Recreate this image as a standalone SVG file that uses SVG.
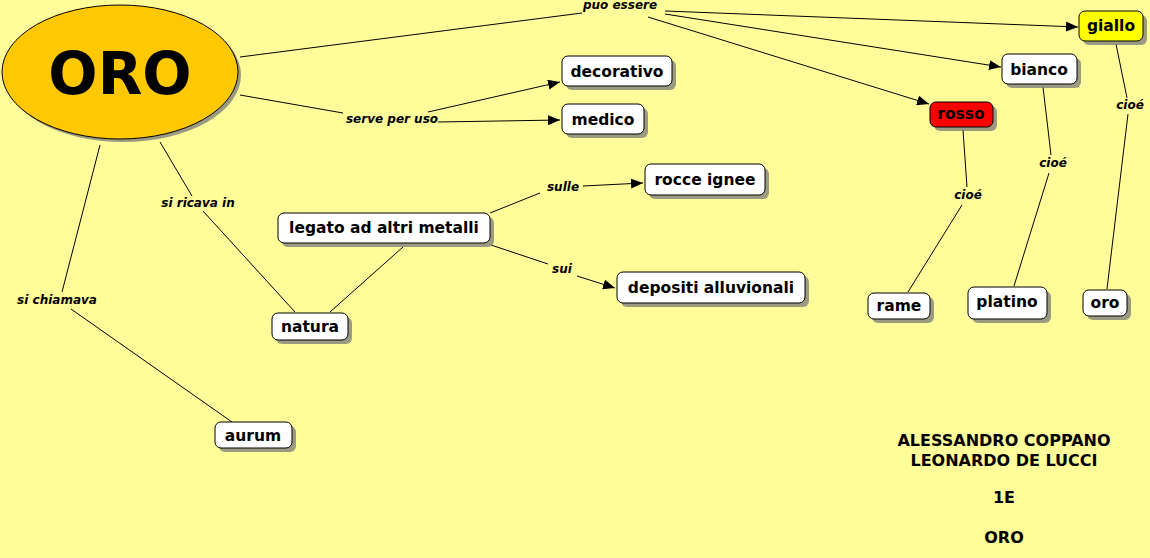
<svg xmlns="http://www.w3.org/2000/svg" width="1150" height="558" viewBox="0 0 1150 558">
<style>
.bg{fill:#FFFD9A}
.box{fill:#fff;stroke:#000;stroke-width:1}
.sh{fill:#7a7a7a;opacity:0.75}
.t{font-family:"DejaVu Sans",Verdana,sans-serif;font-weight:bold;font-size:15.5px;fill:#000;text-anchor:middle}
.lb{font-family:"DejaVu Sans",Verdana,sans-serif;font-weight:bold;font-style:italic;font-size:12px;fill:#000;text-anchor:middle}
.ln{stroke:#000;stroke-width:1;fill:none}
.ar{stroke:#000;stroke-width:1;fill:none;marker-end:url(#ah)}
.ft{font-family:"DejaVu Sans",Verdana,sans-serif;font-weight:bold;font-size:16px;fill:#000;text-anchor:middle}
</style>
<defs>
<marker id="ah" viewBox="0 0 12 10" refX="12" refY="5" markerWidth="12" markerHeight="10" markerUnits="userSpaceOnUse" orient="auto">
<path d="M0,0 L12,5 L0,10 Z" fill="#000"/>
</marker>
</defs>
<rect class="bg" x="0" y="0" width="1150" height="558"/>

<g id="connectors">
<line class="ln" x1="240" y1="57" x2="582" y2="13"/>
<line class="ar" x1="665" y1="11" x2="1078" y2="27"/>
<line class="ar" x1="665" y1="14" x2="1001" y2="67"/>
<line class="ar" x1="648" y1="17" x2="929" y2="104"/>
<line class="ln" x1="240" y1="95" x2="343" y2="113"/>
<line class="ar" x1="428" y1="112" x2="560" y2="82"/>
<line class="ar" x1="438" y1="122" x2="560" y2="120"/>
<line class="ln" x1="160" y1="142" x2="192" y2="196"/>
<line class="ln" x1="203" y1="211" x2="295" y2="312"/>
<line class="ln" x1="100" y1="145" x2="62" y2="292"/>
<line class="ln" x1="71" y1="309" x2="232" y2="422"/>
<line class="ln" x1="403" y1="247" x2="330" y2="312"/>
<line class="ln" x1="490" y1="213" x2="540" y2="193"/>
<line class="ar" x1="583" y1="186" x2="643" y2="183"/>
<line class="ln" x1="491" y1="245" x2="548" y2="264"/>
<line class="ar" x1="577" y1="276" x2="615" y2="288"/>
<line class="ln" x1="963" y1="130" x2="967" y2="187"/>
<line class="ln" x1="962" y1="205" x2="908" y2="292"/>
<line class="ln" x1="1043" y1="87" x2="1051" y2="155"/>
<line class="ln" x1="1049" y1="173" x2="1014" y2="286"/>
<line class="ln" x1="1116" y1="44" x2="1127" y2="98"/>
<line class="ln" x1="1128" y1="114" x2="1107" y2="289"/>
<text class="lb" x="620" y="9">puo essere</text>
<text class="lb" x="392" y="123">serve per uso</text>
<text class="lb" x="198" y="207">si ricava in</text>
<text class="lb" x="57" y="304">si chiamava</text>
<text class="lb" x="563" y="191">sulle</text>
<text class="lb" x="562" y="273">sui</text>
<text class="lb" x="968" y="199">cioé</text>
<text class="lb" x="1053" y="167">cioé</text>
<text class="lb" x="1130" y="109">cioé</text>
</g>

<g id="n-oro-main">
<ellipse class="sh" cx="123" cy="75" rx="118" ry="67"/>
<ellipse cx="120" cy="72" rx="118" ry="67" fill="#FFC800" stroke="#000" stroke-width="1"/>
<text x="120" y="94" style="font-family:'DejaVu Sans',Verdana,sans-serif;font-weight:bold;font-size:58px;text-anchor:middle">ORO</text>
</g>

<g id="n-decorativo">
<rect class="sh" x="566" y="60" width="110" height="30" rx="6"/>
<rect class="box" x="562" y="56" width="110" height="30" rx="6"/>
<text class="t" x="617" y="77">decorativo</text>
</g>
<g id="n-medico">
<rect class="sh" x="566" y="108" width="82" height="30" rx="6"/>
<rect class="box" x="562" y="104" width="82" height="30" rx="6"/>
<text class="t" x="603" y="125">medico</text>
</g>
<g id="n-rocce">
<rect class="sh" x="649" y="168" width="120" height="31" rx="6"/>
<rect class="box" x="645" y="164" width="120" height="31" rx="6"/>
<text class="t" x="705" y="185">rocce ignee</text>
</g>
<g id="n-legato">
<rect class="sh" x="282" y="217" width="212" height="30" rx="6"/>
<rect class="box" x="278" y="213" width="212" height="30" rx="6"/>
<text class="t" x="384" y="233">legato ad altri metalli</text>
</g>
<g id="n-depositi">
<rect class="sh" x="621" y="276" width="188" height="31" rx="6"/>
<rect class="box" x="617" y="272" width="188" height="31" rx="6"/>
<text class="t" x="711" y="293">depositi alluvionali</text>
</g>
<g id="n-natura">
<rect class="sh" x="276" y="317" width="76" height="27" rx="6"/>
<rect class="box" x="272" y="313" width="76" height="27" rx="6"/>
<text class="t" x="310" y="332">natura</text>
</g>
<g id="n-aurum">
<rect class="sh" x="219" y="426" width="77" height="26" rx="6"/>
<rect class="box" x="215" y="422" width="77" height="26" rx="6"/>
<text class="t" x="253" y="441">aurum</text>
</g>
<g id="n-giallo">
<rect class="sh" x="1083" y="15" width="64" height="30" rx="6"/>
<rect x="1079" y="11" width="64" height="30" rx="6" fill="#FFFF00" stroke="#000"/>
<text class="t" x="1111" y="31">giallo</text>
</g>
<g id="n-bianco">
<rect class="sh" x="1006" y="58" width="75" height="30" rx="6"/>
<rect class="box" x="1002" y="54" width="75" height="30" rx="6"/>
<text class="t" x="1039" y="75">bianco</text>
</g>
<g id="n-rosso">
<rect class="sh" x="934" y="106" width="63" height="25" rx="6"/>
<rect x="930" y="102" width="63" height="25" rx="6" fill="#FF0000" stroke="#000"/>
<text class="t" x="961" y="119">rosso</text>
</g>
<g id="n-rame">
<rect class="sh" x="872" y="297" width="62" height="26" rx="6"/>
<rect class="box" x="868" y="293" width="62" height="26" rx="6"/>
<text class="t" x="899" y="311">rame</text>
</g>
<g id="n-platino">
<rect class="sh" x="972" y="291" width="79" height="32" rx="6"/>
<rect class="box" x="968" y="287" width="79" height="32" rx="6"/>
<text class="t" x="1007" y="307">platino</text>
</g>
<g id="n-oro">
<rect class="sh" x="1087" y="294" width="44" height="26" rx="6"/>
<rect class="box" x="1083" y="290" width="44" height="26" rx="6"/>
<text class="t" x="1105" y="308">oro</text>
</g>

<g id="credits">
<text class="ft" x="1004" y="446">ALESSANDRO COPPANO</text>
<text class="ft" x="1004" y="466">LEONARDO DE LUCCI</text>
<text class="ft" x="1004" y="503">1E</text>
<text class="ft" x="1004" y="543">ORO</text>
</g>
</svg>
